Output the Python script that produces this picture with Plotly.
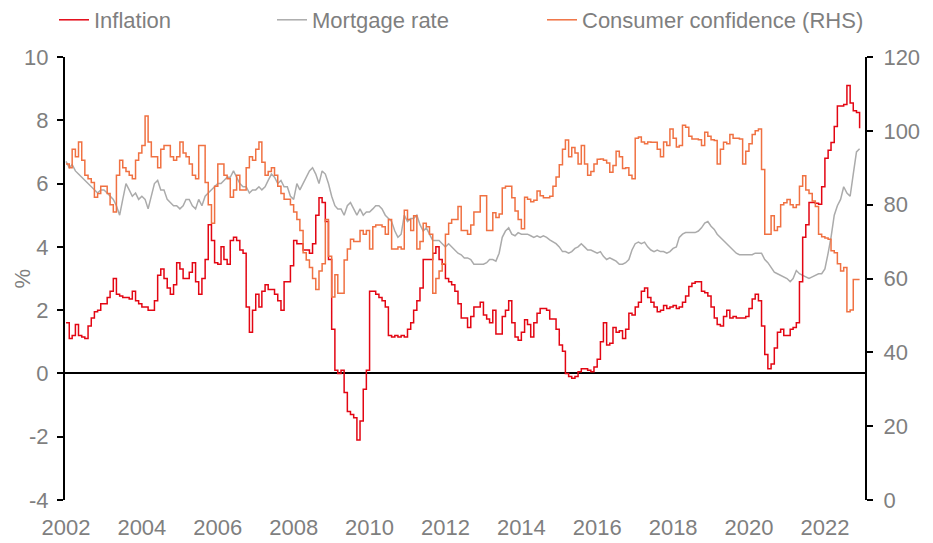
import plotly.graph_objects as go
import pandas as pd

# ---- data (monthly, starting Jan 2002) ----
start_month = "2002-01-01"
year_ticks = ["2002", "2004", "2006", "2008", "2010", "2012", "2014", "2016", "2018", "2020", "2022"]
left_ticks = [-4, -2, 0, 2, 4, 6, 8, 10]
right_ticks = [0, 20, 40, 60, 80, 100, 120]

inflation = [
    1.6, 1.1, 1.2, 1.55, 1.2, 1.15, 1.1, 1.5, 1.75, 1.95, 2.0, 2.2,
    2.2, 2.4, 2.6, 3.0, 2.5, 2.45, 2.4, 2.4, 2.35, 2.6, 2.3, 2.2,
    2.1, 2.1, 2.0, 2.0, 2.3, 3.1, 3.3, 3.0, 2.7, 2.5, 2.8, 3.5,
    3.3, 3.0, 3.0, 3.2, 3.5, 2.9, 2.5, 3.0, 3.6, 4.7, 4.2, 3.5,
    3.45, 4.0, 3.6, 3.45, 4.2, 4.3, 4.2, 3.9, 3.8, 2.1, 1.3, 2.0,
    2.5, 2.1, 2.6, 2.8, 2.65, 2.65, 2.5, 2.3, 2.0, 2.9, 2.9, 3.4,
    4.2, 4.1, 4.1, 3.9, 3.9, 3.8, 4.1, 5.0, 5.55, 5.4, 4.8, 3.6,
    1.4, 0.1, 0.0, 0.1, -0.6, -1.2, -1.3, -1.4, -2.1, -1.5, -0.5, 0.1,
    2.6, 2.6, 2.5, 2.4, 2.3, 2.1, 1.2, 1.15, 1.2, 1.15, 1.2, 1.15,
    1.4, 1.6, 2.0, 2.3, 2.7, 3.6, 3.6, 3.6, 3.8, 4.0, 3.6, 3.45,
    3.0, 2.9, 2.8, 2.6, 2.2, 1.75, 1.75, 1.45, 1.8, 2.1, 2.1, 2.25,
    1.85, 1.72, 1.6, 2.0, 1.25, 1.25, 1.8, 2.0, 2.3, 1.6, 1.15, 1.05,
    1.3, 1.7, 1.55, 1.15, 1.6, 1.9, 2.05, 2.05, 2.0, 1.72, 1.72, 1.4,
    0.9, 0.7, 0.0, -0.1, -0.15, -0.1, 0.05, 0.15, 0.15, 0.1, 0.05, 0.2,
    0.45, 1.0, 1.6, 0.9, 0.95, 1.45, 1.3, 1.35, 1.1, 1.4, 1.9, 1.85,
    2.1, 2.25, 2.6, 2.7, 2.4, 2.25, 2.1, 1.95, 2.0, 2.15, 2.05, 2.1,
    2.15, 2.05, 2.1, 2.25, 2.45, 2.75, 2.85, 2.9, 2.9, 2.6, 2.55, 2.45,
    2.1, 1.75, 1.55, 1.5, 1.8, 2.0, 1.75, 1.8, 1.75, 1.75, 1.75, 1.8,
    2.05, 2.35, 2.5, 2.3, 1.5, 0.6, 0.15, 0.3, 0.8, 1.3, 1.4, 1.2,
    1.2, 1.4, 1.45, 1.6, 2.9, 4.3, 4.7, 5.4, 5.4, 5.38, 5.35, 5.9,
    6.8, 7.05, 7.3, 7.8, 8.45, 8.45, 8.5, 9.1, 8.55, 8.3, 8.25, 7.75,
]

mortgage = [
    6.7, 6.5, 6.6, 6.4, 6.3, 6.2, 6.1, 6.0, 5.9, 5.8, 5.7, 5.8,
    5.8, 5.7, 5.6, 5.5, 5.3, 5.0, 5.5, 6.0, 5.8, 5.6, 5.7, 5.5,
    5.6, 5.5, 5.2, 5.6, 6.0, 6.1, 5.8, 5.8, 5.5, 5.4, 5.3, 5.3,
    5.2, 5.3, 5.5, 5.5, 5.3, 5.2, 5.5, 5.3, 5.6, 5.7, 5.8, 5.9,
    6.0, 6.0, 6.1, 6.2, 6.2, 6.4, 6.2, 6.0, 5.9, 5.9, 5.7, 5.8,
    5.8, 5.9, 5.8, 5.9, 6.1, 6.3, 6.2, 6.0, 6.1, 5.9, 5.9, 5.6,
    5.5, 6.0, 5.8, 6.0, 6.2, 6.4, 6.5, 6.3, 6.0, 6.4, 6.3, 6.0,
    5.6, 5.3, 5.2, 5.2, 5.0, 5.3, 5.4, 5.2, 5.0, 5.2, 5.0, 5.1,
    5.1, 5.2, 5.3, 5.3, 5.2, 5.0, 4.9, 4.8, 4.5, 4.3, 4.4, 5.0,
    4.8, 4.9, 4.9, 5.0, 4.7, 4.5, 4.6, 4.4, 4.2, 4.2, 4.2, 4.1,
    4.0, 4.1, 4.0, 3.9, 3.8, 3.75, 3.65, 3.65, 3.6, 3.45, 3.45, 3.45,
    3.45, 3.5, 3.6, 3.6, 3.55, 3.8, 4.3, 4.5, 4.6, 4.4, 4.35, 4.45,
    4.4, 4.4, 4.4, 4.35, 4.3, 4.35, 4.3, 4.35, 4.3, 4.22, 4.15, 4.1,
    4.0, 3.85, 3.85, 3.8, 3.85, 3.95, 4.0, 4.1, 4.0, 3.9, 3.9, 3.85,
    3.8, 3.85, 3.7, 3.6, 3.65, 3.6, 3.55, 3.45, 3.45, 3.5, 3.6, 3.9,
    4.1, 4.15, 4.1, 4.15, 4.0, 3.9, 3.85, 3.9, 3.85, 3.85, 3.8, 3.85,
    3.95, 4.0, 4.3, 4.4, 4.45, 4.45, 4.45, 4.45, 4.5, 4.6, 4.75, 4.8,
    4.65, 4.55, 4.4, 4.3, 4.2, 4.1, 4.0, 3.9, 3.8, 3.75, 3.75, 3.75,
    3.75, 3.75, 3.8, 3.8, 3.8, 3.6, 3.5, 3.35, 3.2, 3.15, 3.1, 3.05,
    3.0, 2.9, 3.0, 3.25, 3.15, 3.1, 3.05, 3.0, 3.05, 3.1, 3.15, 3.15,
    3.3, 3.8, 4.3, 5.0, 5.3, 5.5, 5.9, 5.7, 5.6, 6.3, 7.0, 7.1,
]

confidence = [
    91, 90, 95, 93, 97, 92, 88, 87, 86, 82, 83, 85,
    85, 83, 80, 78, 88, 92, 90, 89, 88, 87, 92, 94,
    96, 104, 97, 93, 93, 90, 95, 96, 96, 93, 92, 93,
    97, 94, 93, 91, 88, 87, 96, 96, 86, 80, 75, 85,
    91, 91, 88, 87, 82, 84, 88, 84, 84, 90, 93, 92,
    95, 97, 91.5, 88, 89, 90, 88, 85, 83, 81.5, 81.5, 80,
    78, 76, 73, 67, 65, 63, 60, 57, 62, 64, 76, 66,
    55, 61, 56, 56, 65, 68, 70.6, 70, 70, 73, 72, 73,
    68, 74, 74.5, 74.5, 74, 72, 76, 68, 68, 68.5, 68, 78.5,
    76, 73, 77, 68, 70, 75, 74, 72, 56, 60, 62, 64,
    72, 75, 76, 76, 79.5, 73, 73, 72, 74.5, 78, 78, 82.4,
    82.4, 73, 73, 77.8, 76.5, 77.5, 84.5, 85, 85, 81.9, 78.3, 76,
    73.5, 82, 81.5, 80.8, 81.2, 83.7, 82.4, 81.9, 81.9, 82.3, 85, 87.5,
    90.8, 95, 97.5, 93, 95.5, 94, 91, 96, 91, 88, 89, 91,
    92.3, 92.4, 92, 91.3, 88.8, 90.6, 94.5, 93, 89.8, 90, 88, 87,
    98, 98.3, 97, 96.5, 97, 96.9, 96.9, 95, 93, 97, 96, 100.5,
    98, 95.6, 96, 101.5, 101, 98.5, 97.8, 97.8, 97.6, 96, 99.6, 98.5,
    97.6, 97.4, 91, 95, 96.9, 96.5, 99, 98, 98, 97.8, 91, 94.5,
    96.5, 99, 100, 100.5, 89.5, 72, 72, 77, 73, 74, 80, 80.5,
    81.4, 80, 79.2, 80, 85, 87.8, 84, 83, 81, 79.5, 72, 71.3,
    71, 70.6, 67.5, 67, 64, 62, 63, 51, 51.5, 59.7, 59.7, 59.7,
]

dates = pd.date_range(start_month, periods=len(inflation), freq="MS")

RED = "#E30613"
GREY = "#ABABAB"
ORANGE = "#F07142"
TXT = "#7F7F7F"
FONT = "Liberation Sans, Arial, sans-serif"
FS = 22

# page body has an 8px margin; figure is sized so the visible layout matches
W, H = 925, 535

fig = go.Figure()
fig.add_trace(go.Scatter(x=dates, y=mortgage, mode="lines", name="Mortgage rate",
                         line=dict(color=GREY, width=1.5), legend="legend2"))
fig.add_trace(go.Scatter(x=dates, y=confidence, mode="lines", name="Consumer confidence (RHS)",
                         line=dict(color=ORANGE, width=1.5, shape="hv"), yaxis="y2", legend="legend3"))
fig.add_trace(go.Scatter(x=dates, y=inflation, mode="lines", name="Inflation",
                         line=dict(color=RED, width=1.5, shape="hv"), legend="legend"))

def leg(px):
    return dict(orientation="h", xref="container", yref="container", x=px / W, y=1 - 12 / H,
                xanchor="left", yanchor="middle", font=dict(family=FONT, size=FS, color=TXT),
                bgcolor="rgba(0,0,0,0)")

fig.update_layout(
    width=W, height=H,
    margin=dict(l=57, r=68, t=49, b=43, autoexpand=False),
    paper_bgcolor="white", plot_bgcolor="white",
    font=dict(family=FONT, size=FS, color=TXT),
    showlegend=True,
    legend=leg(46),
    legend2=leg(264),
    legend3=leg(534),
    xaxis=dict(
        type="date", range=["2001-12-22", "2023-01-22"],
        tickvals=[f"{y}-01-01" for y in year_ticks], ticktext=year_ticks,
        showline=False, showgrid=False, zeroline=False,
        ticks="outside", ticklen=8, tickcolor="rgba(0,0,0,0)",
        tickfont=dict(family=FONT, size=FS, color=TXT),
    ),
    yaxis=dict(
        range=[-4, 10], tickvals=left_ticks, ticktext=[str(v) for v in left_ticks],
        showgrid=False,
        showline=True, linecolor="black", linewidth=2,
        ticks="outside", ticklen=6, tickwidth=2, tickcolor="black",
        zeroline=True, zerolinecolor="black", zerolinewidth=2,
        tickfont=dict(family=FONT, size=FS, color=TXT),
        ticklabelstandoff=4,
    ),
    yaxis2=dict(
        range=[0, 120], tickvals=right_ticks, ticktext=[str(v) for v in right_ticks],
        overlaying="y", side="right", showgrid=False,
        showline=True, linecolor="black", linewidth=2,
        ticks="outside", ticklen=6, tickwidth=2, tickcolor="black",
        zeroline=False,
        tickfont=dict(family=FONT, size=FS, color=TXT),
        ticklabelstandoff=6,
    ),
    annotations=[dict(text="%", xref="paper", yref="paper", x=(22 - 65) / 800, y=0.5,
                      textangle=-90, showarrow=False, xanchor="center", yanchor="middle",
                      font=dict(family=FONT, size=FS, color=TXT))],
)

fig.write_html("out.html")
